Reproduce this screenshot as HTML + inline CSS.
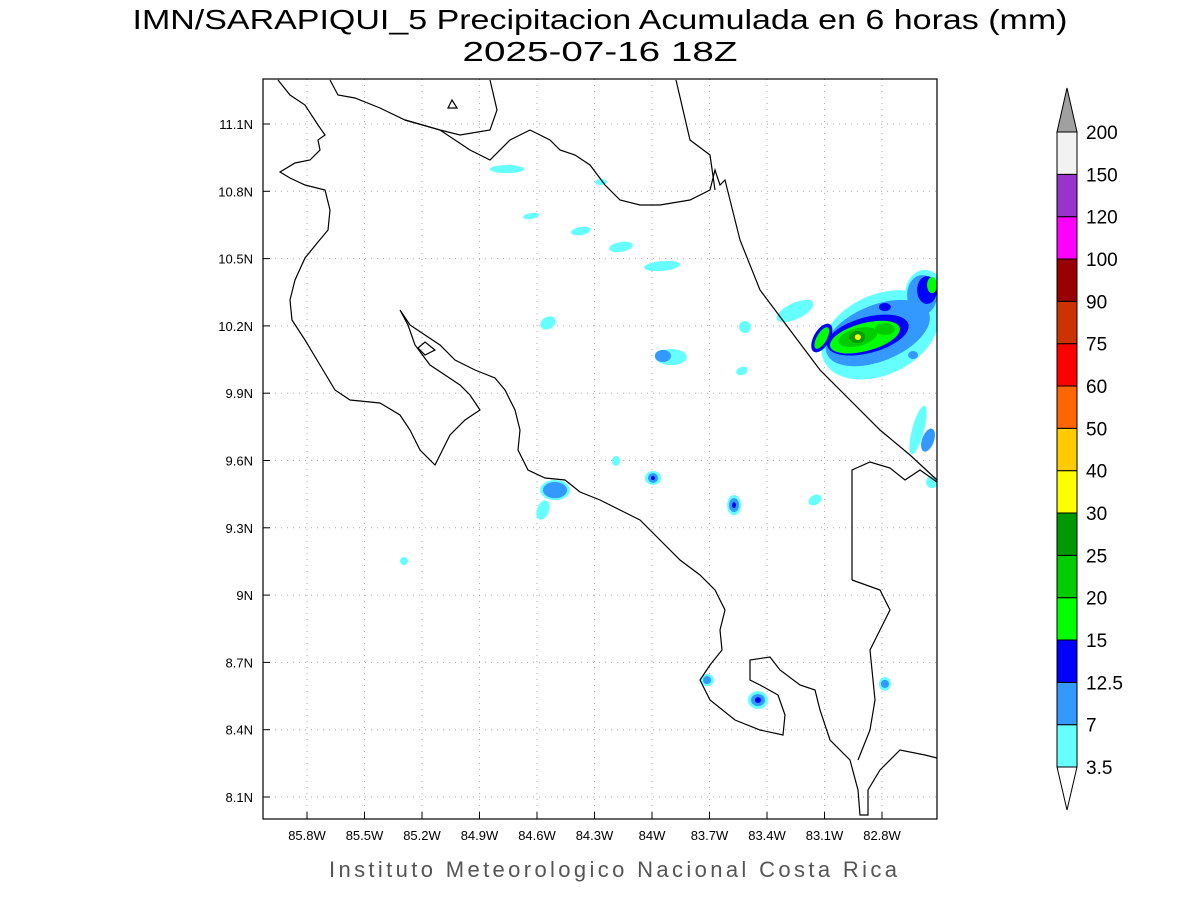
<!DOCTYPE html>
<html><head><meta charset="utf-8"><style>
body{margin:0;background:#fff;width:1200px;height:900px;overflow:hidden}
svg{display:block}
text{font-family:"Liberation Sans",sans-serif}
</style></head><body>
<svg id="chart" width="1200" height="900" viewBox="0 0 1200 900">
<text x="600" y="29" text-anchor="middle" font-size="28" fill="#000" textLength="935" lengthAdjust="spacingAndGlyphs">IMN/SARAPIQUI_5 Precipitacion Acumulada en 6 horas (mm)</text>
<text x="600" y="61" text-anchor="middle" font-size="28" fill="#000" textLength="275" lengthAdjust="spacingAndGlyphs">2025-07-16 18Z</text>
<text x="613" y="877" text-anchor="middle" font-size="22" fill="#555" textLength="568" lengthAdjust="spacing">Instituto Meteorologico Nacional Costa Rica</text>
<defs><clipPath id="plotclip"><rect x="263" y="79" width="674" height="740"/></clipPath></defs>
<g id="grid"></g>
<g id="blobs" clip-path="url(#plotclip)"></g>
<g id="coast" clip-path="url(#plotclip)" fill="none" stroke="#000" stroke-width="1.2">
<path d="M278,80 L290,95 305,105 318,125 325,135 318,140 320,150 310,160 295,163 280,172 290,178 305,185 325,190 330,210 328,230 318,242 305,258 295,280 290,300 292,320 305,340 320,365 335,390 350,400 380,403 400,415 410,430 420,450 435,465 440,455 450,435 465,420 480,410 470,395 460,385 445,375 430,365 415,345 408,325 400,310 410,325 425,335 440,345 455,360 475,370 495,378 505,390 515,410 520,430 518,450 528,470 545,478 565,480 580,492 600,500 620,510 640,520 660,540 680,560 700,575 715,590 725,610 720,630 722,650 710,665 700,680 710,700 735,720 760,730 783,735 785,715 778,695 760,685 750,680 750,660 770,657 780,670 800,685 815,690 820,710 830,740 850,760 858,790 860,815 868,815 868,790 880,770 900,750 925,755 937,758"/>
<path d="M330,80 L338,95 355,98 380,108 405,120 440,130 470,150 490,160 510,140 530,130 550,140 560,150 575,155 590,165 605,185 620,200 640,205 660,205 690,200 710,190 715,170 720,185 725,180 740,240 760,290 790,330 820,370 850,400 880,430 910,455 937,480"/>
<path d="M405,120 L440,130 460,135 490,130 497,110 490,80"/>
<path d="M676,80 L690,140 710,155 715,190"/>
<path d="M852,580 L852,470 870,462 890,468 905,480 920,470 937,482"/>
<path d="M852,580 L880,590 890,610 880,630 870,650 875,700 870,730 858,760"/>
<path d="M448,108 L452,100 457,108 Z"/>
<path d="M418,348 L425,342 435,350 425,355 Z"/>
</g>
<rect x="263" y="79" width="674" height="740" fill="none" stroke="#000" stroke-width="1.2"/>
<g id="axes"></g>
<g id="cbar"></g>
</svg>
<script>
const lonTicks=[-85.8,-85.5,-85.2,-84.9,-84.6,-84.3,-84.0,-83.7,-83.4,-83.1,-82.8];
const lonLabels=["85.8W","85.5W","85.2W","84.9W","84.6W","84.3W","84W","83.7W","83.4W","83.1W","82.8W"];
const latTicks=[8.1,8.4,8.7,9.0,9.3,9.6,9.9,10.2,10.5,10.8,11.1];
const latLabels=["8.1N","8.4N","8.7N","9N","9.3N","9.6N","9.9N","10.2N","10.5N","10.8N","11.1N"];
const levelLabels=["3.5","7","12.5","15","20","25","30","40","50","60","75","90","100","120","150","200"];
const levelColors=["#66ffff","#3399ff","#0000ff","#00ff00","#00cc00","#009900","#ffff00","#ffcc00","#ff6600","#ff0000","#cc3300","#990000","#ff00ff","#9933cc","#f2f2f2"];
const blobLon=[-84.757,-84.266,-84.631,-84.371,-84.162,-83.948,-84.543,-83.901,-83.943,-83.515,-83.531,-84.188,-83.995,-83.995,-83.995,-84.506,-84.569,-84.506,-83.572,-83.572,-83.572,-83.150,-85.294,-83.713,-83.713,-83.447,-83.447,-83.447,-82.785,-82.785,-82.612,-82.560,-82.539,-83.254,-82.811,-82.576,-82.822,-82.591,-82.874,-83.114,-82.565,-82.785,-82.889,-83.114,-82.539,-82.926,-82.785,-82.930,-82.926,-82.638];
const blobLat=[10.899,10.841,10.690,10.623,10.552,10.467,10.213,10.061,10.066,10.195,9.999,9.598,9.522,9.522,9.522,9.468,9.379,9.468,9.401,9.401,9.401,9.424,9.152,8.621,8.621,8.532,8.532,8.532,8.604,8.604,9.736,9.691,9.504,10.266,10.160,10.338,10.168,10.338,10.159,10.146,10.360,10.284,10.150,10.146,10.382,10.150,10.186,10.150,10.150,10.070];
const blobRx=[0.089,0.031,0.042,0.052,0.063,0.094,0.042,0.083,0.042,0.031,0.031,0.021,0.042,0.026,0.010,0.078,0.031,0.063,0.036,0.026,0.010,0.036,0.021,0.036,0.021,0.052,0.036,0.016,0.031,0.021,0.031,0.031,0.031,0.104,0.322,0.104,0.287,0.078,0.219,0.042,0.052,0.031,0.188,0.026,0.026,0.104,0.052,0.042,0.016,0.026];
const blobRy=[0.018,0.013,0.013,0.018,0.022,0.022,0.027,0.036,0.027,0.027,0.018,0.022,0.031,0.022,0.009,0.045,0.045,0.036,0.045,0.031,0.013,0.022,0.018,0.027,0.018,0.040,0.027,0.013,0.031,0.018,0.112,0.054,0.027,0.036,0.178,0.112,0.125,0.089,0.080,0.071,0.062,0.018,0.062,0.054,0.036,0.040,0.027,0.027,0.013,0.018];
const blobLevel=[0,0,0,0,0,0,0,0,1,0,0,0,0,1,2,0,0,1,0,1,2,0,0,0,1,0,1,2,0,1,0,1,0,0,0,0,1,1,2,2,2,2,3,3,3,4,4,5,6,1];
const blobRot=[0,0,-10,-10,-10,-5,-30,0,0,0,-20,0,0,0,0,0,20,0,0,0,0,-30,0,0,0,0,0,0,0,0,15,20,0,-25,-25,0,-22,0,-15,30,0,0,-15,30,0,-15,0,0,0,0];

const NS="http://www.w3.org/2000/svg";
const xS=lon=>307+(lon+85.8)*191.67;
const yS=lat=>124+(11.1-lat)*224.33;
function mk(t,a,p){const e=document.createElementNS(NS,t);for(const k in a)e.setAttribute(k,a[k]);p.appendChild(e);return e;}

const grid=document.getElementById('grid'),axes=document.getElementById('axes');
lonTicks.forEach((v,i)=>{const x=xS(v);
 const l=mk('line',{x1:x,y1:79,x2:x,y2:819,stroke:'#aaa','stroke-width':1,'stroke-dasharray':'1,5'},grid);
 
 
 const tk=mk('line',{x1:x,y1:819,x2:x,y2:812,stroke:'#000'},axes);
 
 
 const t=mk('text',{x:x,y:840,'text-anchor':'middle','font-size':13},axes);t.textContent=lonLabels[i];
 
 
});
latTicks.forEach((v,i)=>{const y=yS(v);
 const l=mk('line',{x1:263,y1:y,x2:937,y2:y,stroke:'#aaa','stroke-width':1,'stroke-dasharray':'1,5'},grid);
 
 
 const tk=mk('line',{x1:263,y1:y,x2:270,y2:y,stroke:'#000'},axes);
 
 
 const t=mk('text',{x:253,y:y+5,'text-anchor':'end','font-size':13},axes);t.textContent=latLabels[i];
 
 
});

const bl=document.getElementById('blobs');
blobLon.forEach((lon,i)=>{const cx=xS(lon),cy=yS(blobLat[i]);
 const e=mk('ellipse',{cx:cx,cy:cy,rx:blobRx[i]*191.67,ry:blobRy[i]*224.33,fill:levelColors[blobLevel[i]],transform:`rotate(${blobRot[i]} ${cx} ${cy})`},bl);
 
 
});

const cb=document.getElementById('cbar');
const cbX=1057,cbW=20,cbBot=767,cbTop=132,seg=(cbBot-cbTop)/levelColors.length;
levelColors.forEach((c,i)=>{
 const r=mk('rect',{x:cbX,y:cbBot-(i+1)*seg,width:cbW,height:seg,fill:c,stroke:'#000','stroke-width':1},cb);
 
 
});
const up=mk('path',{d:`M${cbX},${cbTop} L${cbX+cbW/2},88 L${cbX+cbW},${cbTop} Z`,fill:'#a0a0a0',stroke:'#000'},cb);


const dn=mk('path',{d:`M${cbX},${cbBot} L${cbX+cbW/2},810 L${cbX+cbW},${cbBot} Z`,fill:'#fff',stroke:'#000'},cb);


levelLabels.forEach((s,i)=>{
 const t=mk('text',{x:1086,y:cbBot-i*seg+7,'font-size':19},cb);t.textContent=s;
 
 
});
</script>
</body></html>
